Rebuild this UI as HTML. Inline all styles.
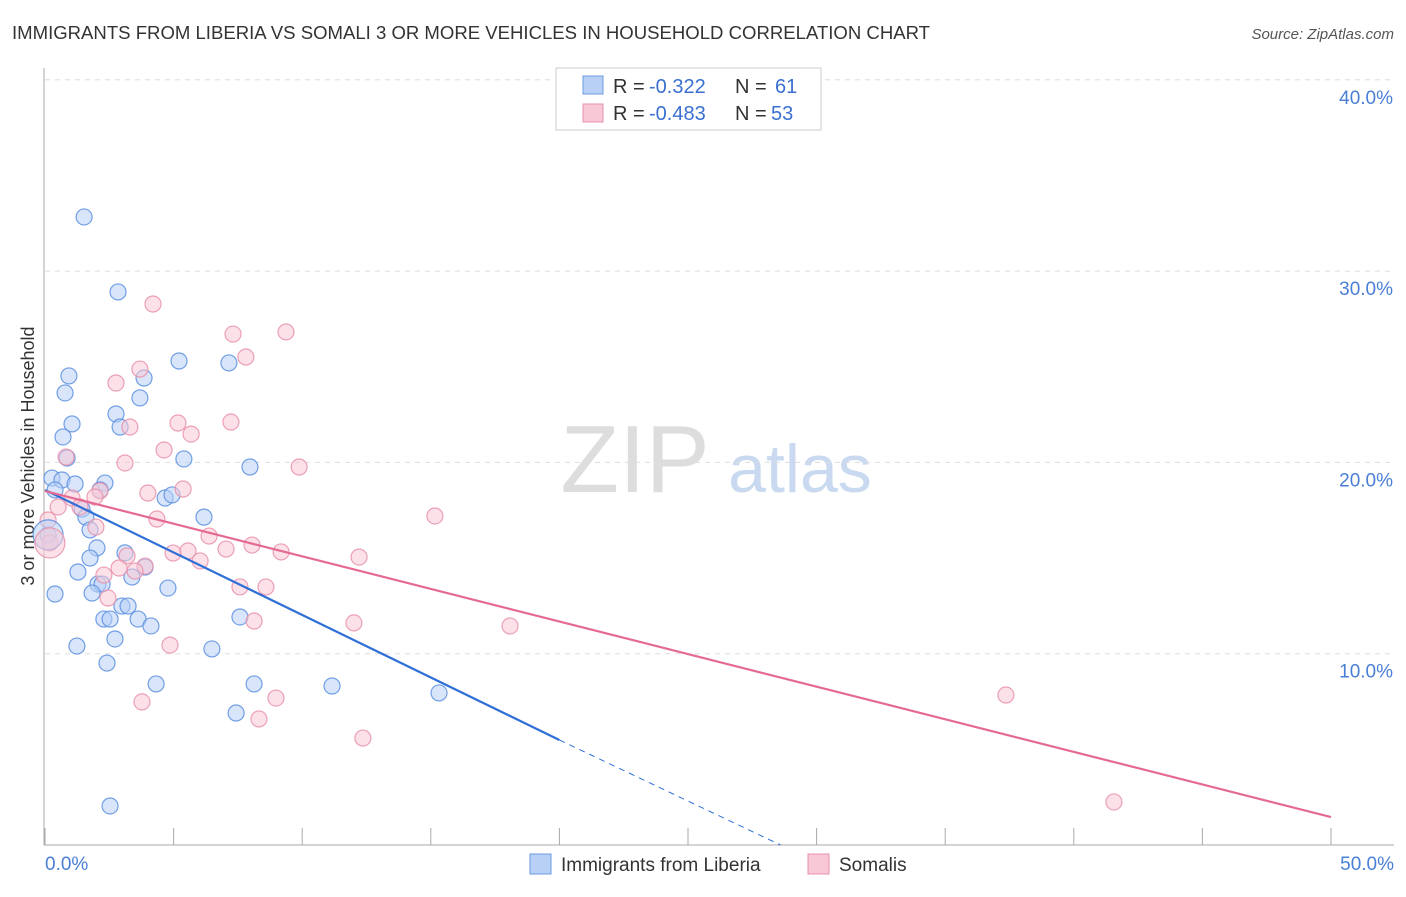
<!DOCTYPE html>
<html><head><meta charset="utf-8"><style>
body{margin:0;background:#fff;font-family:"Liberation Sans",sans-serif}
svg text{font-family:"Liberation Sans",sans-serif}
</style></head><body>
<svg id="c" width="1406" height="892">
<text x="12" y="39" font-size="18" fill="#333" textLength="918" lengthAdjust="spacingAndGlyphs">IMMIGRANTS FROM LIBERIA VS SOMALI 3 OR MORE VEHICLES IN HOUSEHOLD CORRELATION CHART</text>
<text x="1394" y="39" font-size="15" fill="#555" font-style="italic" text-anchor="end">Source: ZipAtlas.com</text>
<text x="635" y="492" font-size="96" fill="#ddd" font-family="Liberation Serif" text-anchor="middle">ZIP</text>
<text x="800" y="492" font-size="68" fill="#c9d9f0" text-anchor="middle">atlas</text>
<text transform="translate(34,456) rotate(-90)" font-size="18" fill="#333" text-anchor="middle">3 or more Vehicles in Household</text>
<g id="grid"></g><g id="pts"></g><g id="lines"></g>
<g>
<rect x="556" y="68" width="265" height="62" fill="#fff" stroke="#ccc"/>
<rect x="583" y="76" width="20" height="18" fill="#b8d0f5" stroke="#6a9be0"/>
<rect x="583" y="104" width="20" height="18" fill="#f9c8d6" stroke="#e890aa"/>
<text x="613" y="93" font-size="20" fill="#333">R =</text>
<text x="649" y="93" font-size="20" fill="#3a70d0">-0.322</text>
<text x="735" y="93" font-size="20" fill="#333">N =</text>
<text x="775" y="93" font-size="20" fill="#3a70d0">61</text>
<text x="613" y="120" font-size="20" fill="#333">R =</text>
<text x="649" y="120" font-size="20" fill="#3a70d0">-0.483</text>
<text x="735" y="120" font-size="20" fill="#333">N =</text>
<text x="771" y="120" font-size="20" fill="#3a70d0">53</text>
</g>
<g>
<rect x="530" y="854" width="21" height="20" fill="#b8d0f5" stroke="#6a9be0"/>
<text x="561" y="871" font-size="19" fill="#333">Immigrants from Liberia</text>
<rect x="808" y="854" width="21" height="20" fill="#f9c8d6" stroke="#e890aa"/>
<text x="839" y="871" font-size="19" fill="#333">Somalis</text>
</g>
</svg>
<script>
const yTicks=[10,20,30,40];
const xTickLabels=["0.0%","50.0%"];
const blueX=[1.52,2.84,0.93,0.78,5.21,7.15,3.85,3.69,2.76,2.92,1.05,0.70,0.86,5.40,7.97,0.27,0.66,1.17,0.39,2.33,2.14,4.67,4.94,1.44,1.59,6.18,1.75,0.12,2.02,3.11,1.75,3.89,1.28,3.38,2.06,2.22,1.83,4.78,0.39,2.99,3.23,2.29,2.53,3.62,4.12,7.58,2.72,1.24,6.49,2.41,4.32,8.13,11.16,15.32,7.43,2.53];
const blueY=[32.83,28.91,24.52,23.63,25.30,25.20,24.41,23.37,22.53,21.85,22.01,21.33,20.23,20.18,19.76,19.18,19.08,18.87,18.56,18.92,18.56,18.14,18.30,17.56,17.14,17.14,16.47,16.21,15.53,15.27,15.00,14.53,14.27,14.01,13.64,13.64,13.17,13.43,13.12,12.49,12.49,11.81,11.81,11.81,11.45,11.92,10.77,10.40,10.25,9.51,8.42,8.42,8.31,7.95,6.90,2.04];
const pinkX=[4.20,9.37,7.31,7.81,3.69,2.76,5.17,7.23,3.30,5.68,4.63,0.82,3.11,9.88,4.00,2.14,5.37,1.05,0.51,1.94,1.36,15.16,4.35,1.98,6.38,0.19,4.98,3.19,5.56,7.04,8.05,9.18,12.21,6.03,3.89,2.29,3.50,2.88,7.58,8.59,2.45,8.13,12.01,18.08,4.86,8.98,3.77,8.32,12.36,37.36,41.56,0.12];
const pinkY=[28.28,26.82,26.71,25.51,24.88,24.15,22.06,22.11,21.85,21.48,20.65,20.28,19.97,19.76,18.40,18.51,18.61,18.14,17.67,18.19,17.67,17.20,17.04,16.62,16.15,15.79,15.26,15.11,15.37,15.47,15.68,15.32,15.05,14.85,14.58,14.11,14.32,14.48,13.49,13.49,12.91,11.71,11.61,11.45,10.45,7.68,7.48,6.59,5.59,7.84,2.25,16.99];
const blueBig=[0.12,16.21], pinkBig=[0.19,15.79];
const blueTrend=[18.56,5.49,0];
const blueTrendEndX=28.6;
const pinkTrend=[18.5,1.46];
const X=v=>45+v*25.72, Y=v=>845-v*19.13;
const ns="http://www.w3.org/2000/svg";
function mk(p,t,a){const e=document.createElementNS(ns,t);for(const k in a)e.setAttribute(k,a[k]);p.appendChild(e);return e;}
const g=document.getElementById('grid');
for(const t of yTicks){const l=mk(g,'line',{x1:45,x2:1394,y1:Y(t),y2:Y(t),stroke:'#ddd','stroke-dasharray':'5,5'});


const tx=mk(g,'text',{x:1393,y:Y(t)+24,'font-size':19,fill:'#4a7fd6','text-anchor':'end'});tx.textContent=t.toFixed(1)+'%';

}
mk(g,'line',{x1:44,x2:44,y1:68,y2:845,stroke:'#aaa'});
mk(g,'line',{x1:44,x2:1394,y1:845,y2:845,stroke:'#aaa'});
for(let i=0;i<=10;i++){mk(g,'line',{x1:X(i*5),x2:X(i*5),y1:828,y2:845,stroke:'#aaa'});}
const xl=mk(g,'text',{x:45,y:870,'font-size':19,fill:'#4a7fd6','text-anchor':'start'});xl.textContent=xTickLabels[0];


const xr=mk(g,'text',{x:1394,y:870,'font-size':19,fill:'#4a7fd6','text-anchor':'end'});xr.textContent=xTickLabels[1];


const p=document.getElementById('pts');
function dot(x,y,r,f,s,n){const c=mk(p,'circle',{cx:X(x),cy:Y(y),r:r,fill:f,'fill-opacity':0.55,stroke:s,'stroke-width':1.2,'stroke-opacity':0.85});

}
blueX.forEach((x,i)=>dot(x,blueY[i],8,'#b8d0f5','#5a8fe0','liberia-point'));
pinkX.forEach((x,i)=>dot(x,pinkY[i],8,'#f9c8d6','#e890aa','somali-point'));
dot(blueBig[0],blueBig[1],15,'#b8d0f5','#5a8fe0','liberia-point');
dot(pinkBig[0],pinkBig[1],15,'#f9c8d6','#e890aa','somali-point');
const L=document.getElementById('lines');
const b1=mk(L,'line',{x1:X(0),y1:Y(blueTrend[0]),x2:X(20),y2:Y(blueTrend[1]),stroke:'#2f6fd6','stroke-width':2.2});


const b2=mk(L,'line',{x1:X(20),y1:Y(blueTrend[1]),x2:X(blueTrendEndX),y2:Y(blueTrend[2]),stroke:'#2f6fd6','stroke-width':1,'stroke-dasharray':'6,5'});


const pl=mk(L,'line',{x1:X(0),y1:Y(pinkTrend[0]),x2:X(50),y2:Y(pinkTrend[1]),stroke:'#e56a93','stroke-width':2.2});


</script>
</body></html>
